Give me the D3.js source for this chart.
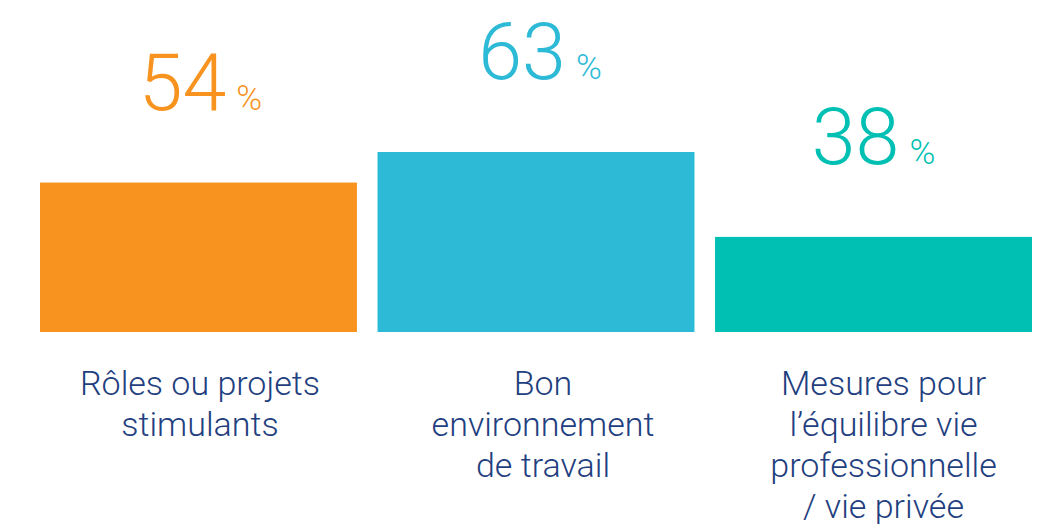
<!DOCTYPE html>
<html lang="fr">
<head>
<meta charset="UTF-8">
<title>Bars</title>
<script src="https://d3js.org/d3.v7.min.js"></script>
<style>
  body { margin: 0; background: #fff; }
  text { font-family: Roboto, "Noto Sans", sans-serif; font-weight: 300; }
</style>
</head>
<body>
<svg></svg>
<script>
  // données
  const categories = ['Rôles ou projets stimulants', 'Bon environnement de travail', 'Mesures pour l’équilibre vie professionnelle / vie privée']
  const values = [54, 63, 38]
  const labelLines = [
    ['Rôles ou projets', 'stimulants'],
    ['Bon', 'environnement', 'de travail'],
    ['Mesures pour', 'l’équilibre vie', 'professionnelle', '/ vie privée']
  ]
  const colors = ['#f7931e', '#2cbad6', '#00bfb3']

  const width = 1059
  const height = 524
  const baseline = 332
  // petits décalages horizontaux des textes, comme dans l'original
  const valShift = [2, 4, 0]
  const labShift = [1.5, 7, 10]

  const svg = d3.select('svg')
    .attr('width', width)
    .attr('height', height)

  const x = d3.scaleBand()
    .domain(categories)
    .range([40, 1032])
    .paddingInner(0.061)

  // l'échelle ne part pas de zéro dans l'original
  const y = d3.scaleLinear()
    .domain([10, 63])
    .range([baseline, 152])

  const g = svg.append('g')

  g.selectAll('rect')
    .data(values)
    .join('rect')
    .attr('x', (d, i) => x(categories[i]))
    .attr('y', d => y(d))
    .attr('width', x.bandwidth())
    .attr('height', d => baseline - y(d))
    .attr('fill', (d, i) => colors[i])

  // valeurs au-dessus des barres
  const vals = g.selectAll('text.val')
    .data(values)
    .join('text')
    .attr('class', 'val')
    .attr('x', (d, i) => x(categories[i]) + x.bandwidth() / 2 + valShift[i])
    .attr('y', d => y(d) - 73)
    .attr('text-anchor', 'middle')
    .attr('fill', (d, i) => colors[i])

  vals.append('tspan')
    .attr('font-size', 79)
    .text(d => d)
  vals.append('tspan')
    .attr('font-size', 35)
    .attr('dx', 10)
    .text('%')

  // libellés
  const labels = g.selectAll('text.lab')
    .data(labelLines)
    .join('text')
    .attr('class', 'lab')
    .attr('text-anchor', 'middle')
    .attr('fill', '#1f4080')
    .attr('font-size', 34)

  labels.each(function (lines, i) {
    const cx = x(categories[i]) + x.bandwidth() / 2 + labShift[i]
    d3.select(this).selectAll('tspan')
      .data(lines)
      .join('tspan')
      .attr('x', cx)
      .attr('y', (d, j) => 395 + j * 41)
      .text(d => d)
  })
</script>
</body>
</html>
